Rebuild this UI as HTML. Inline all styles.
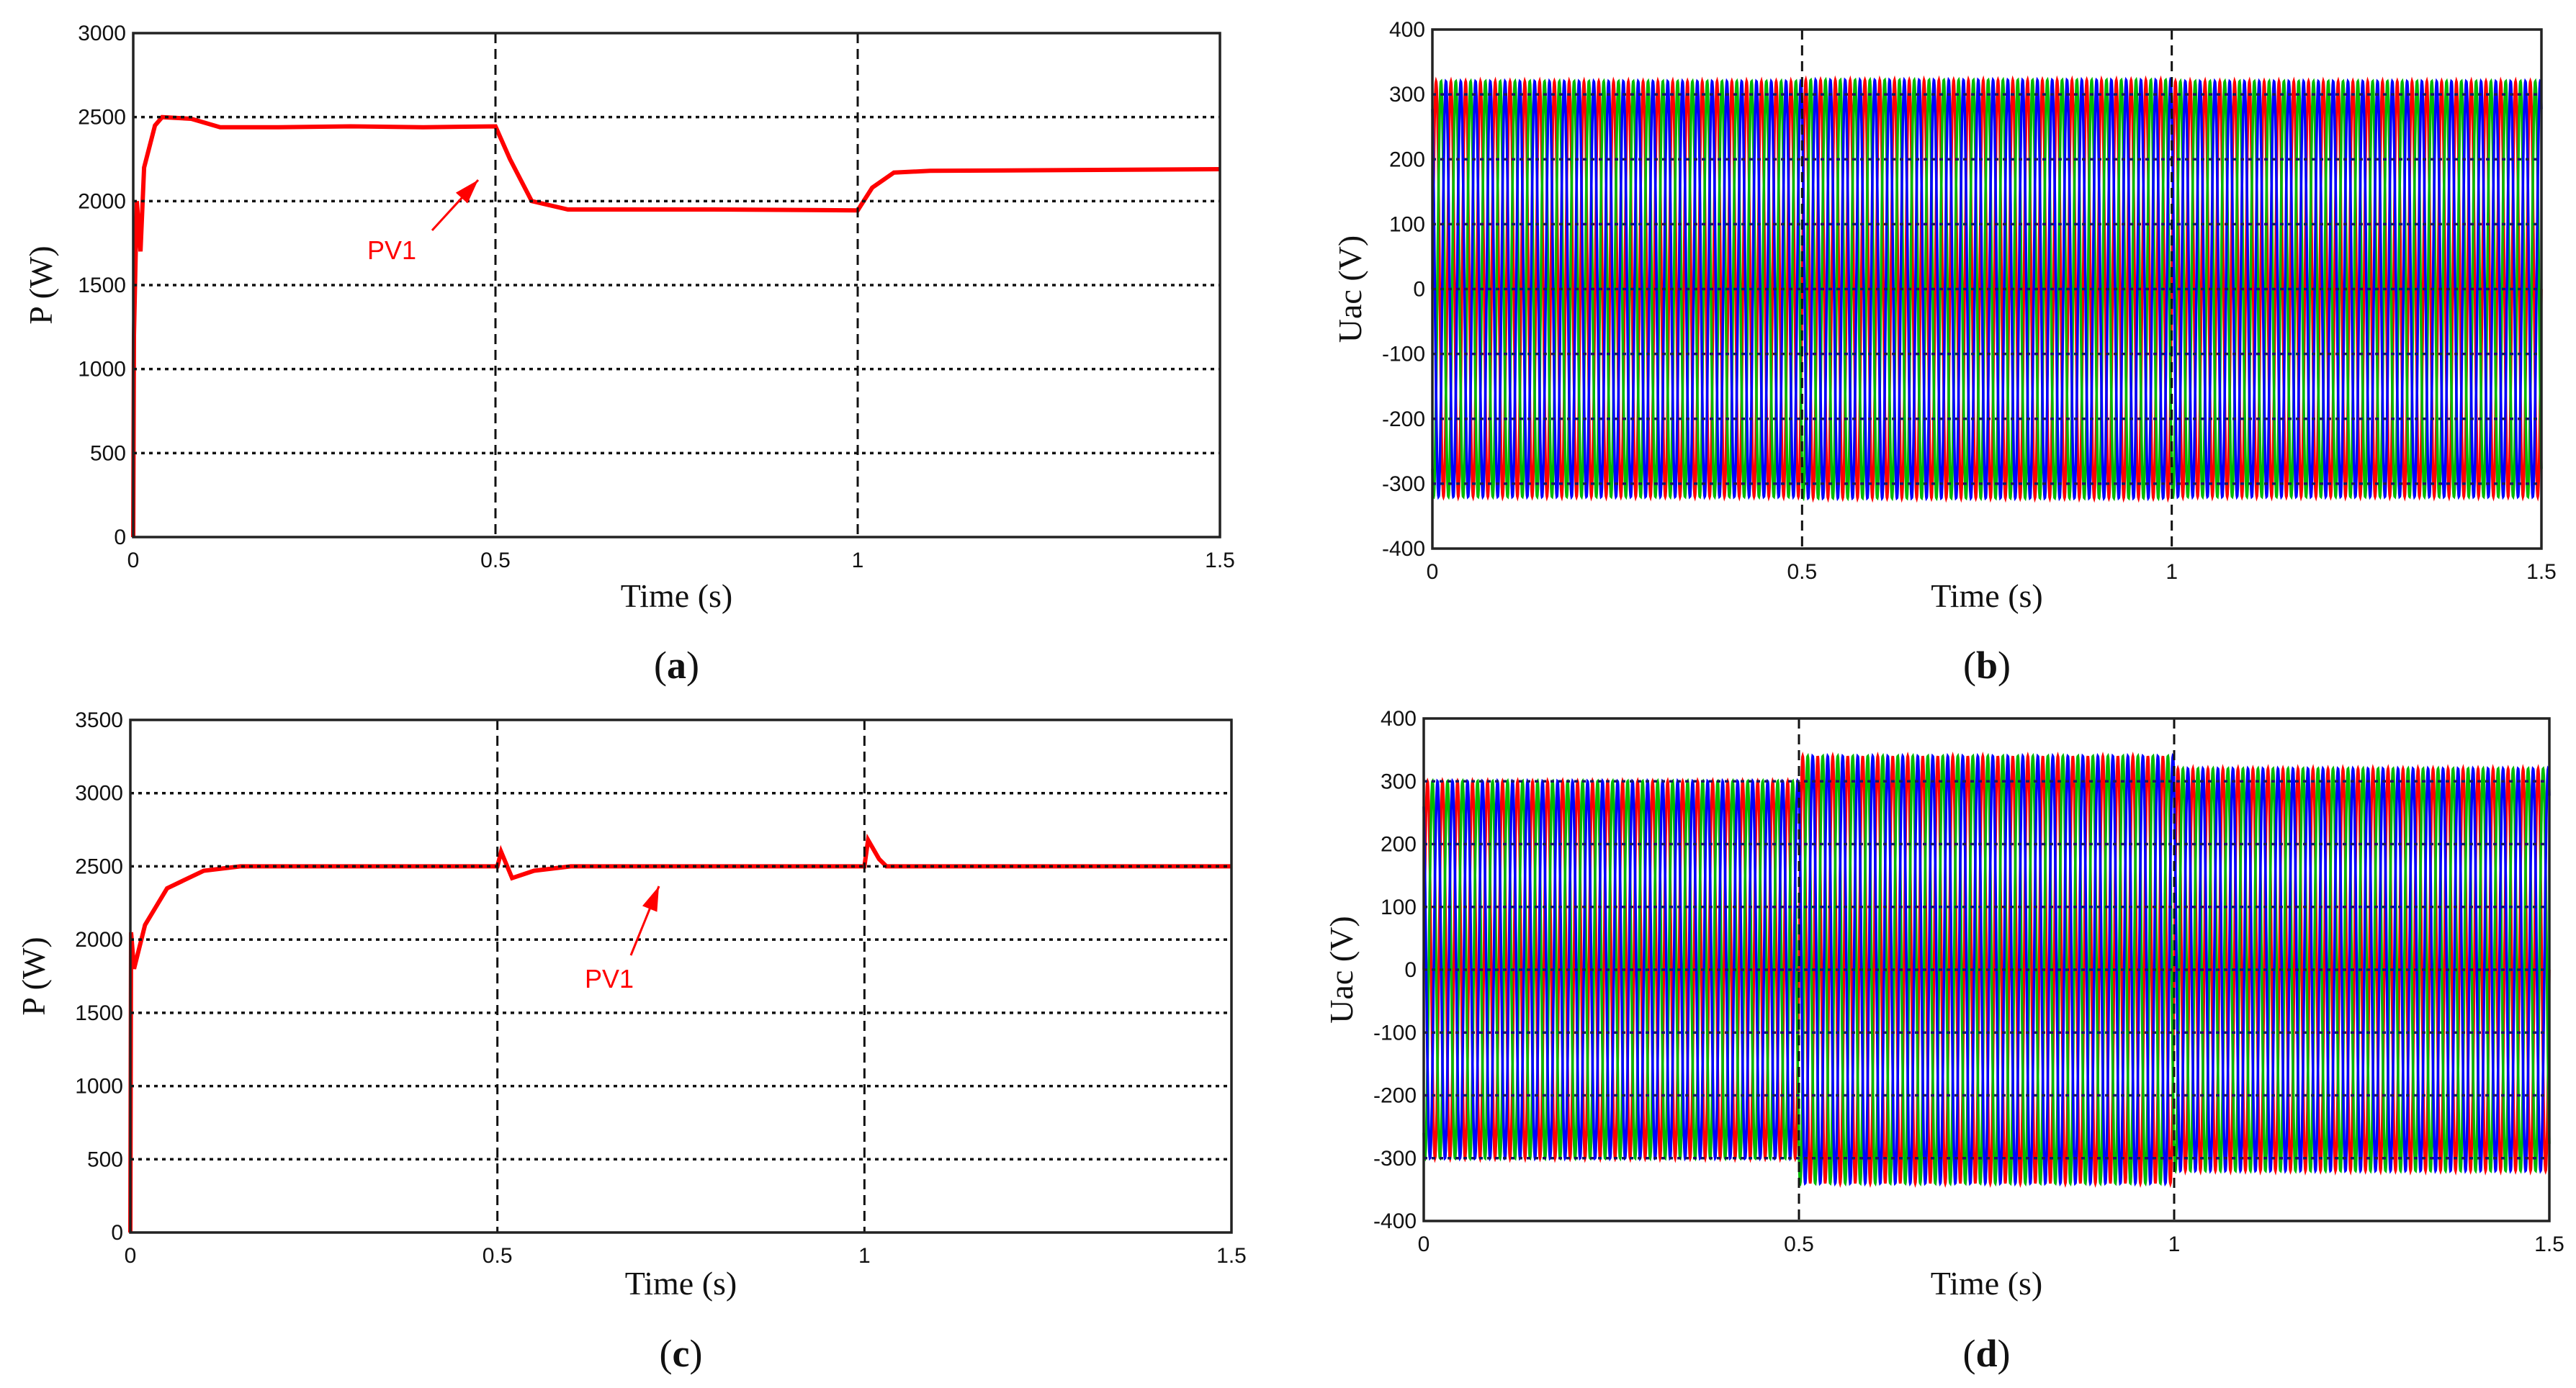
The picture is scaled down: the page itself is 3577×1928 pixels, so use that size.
<!DOCTYPE html>
<html><head><meta charset="utf-8"><style>
body{margin:0;background:#fff}
svg{display:block}
text{font-family:"Liberation Sans",sans-serif}
.tk{font-size:30px;fill:#111}
.ti{font-family:"Liberation Serif",serif;font-size:46px;fill:#111}
.cap{font-family:"Liberation Serif",serif;font-size:54px;fill:#111}
</style></head><body>
<svg id="fig" width="3577" height="1928" viewBox="0 0 3577 1928" xmlns="http://www.w3.org/2000/svg"></svg>
<script>
// ---- data ----
const pA_t=[0,0.001,0.005,0.01,0.015,0.03,0.04,0.08,0.12,0.2,0.3,0.4,0.5,0.52,0.55,0.6,0.8,1.0,1.02,1.05,1.1,1.5];
const pA_v=[0,1200,2000,1700,2200,2450,2500,2490,2440,2440,2445,2440,2445,2250,2000,1950,1950,1945,2080,2170,2180,2190];
const pC_t=[0,0.001,0.005,0.02,0.05,0.1,0.15,0.5,0.505,0.52,0.55,0.6,1.0,1.005,1.02,1.03,1.5];
const pC_v=[0,2050,1800,2100,2350,2470,2500,2500,2600,2420,2470,2500,2500,2680,2550,2500,2500];
const segB_start=[0,0.5,1.0];
const segB_amp=[320,322,320];
const segD_start=[0,0.5,1.0];
const segD_amp=[300,340,320];
const freqHz=50;
const xTicks=[0,0.5,1,1.5];
const xTickLabels=["0","0.5","1","1.5"];
const yTicksA=[0,500,1000,1500,2000,2500,3000];
const yTicksC=[0,500,1000,1500,2000,2500,3000,3500];
const yTicksU=[-400,-300,-200,-100,0,100,200,300,400];

const NS="http://www.w3.org/2000/svg";
const svg=document.getElementById('fig');
function mk(tag,attrs,parent){const e=document.createElementNS(NS,tag);for(const k in attrs)e.setAttribute(k,attrs[k]);(parent||svg).appendChild(e);return e;}

function panel(cfg){
  const g=mk('g',{});
  
  
  const X=t=>cfg.x0+(t-0)/1.5*(cfg.x1-cfg.x0);
  const Y=v=>cfg.yb+(v-cfg.ymin)/(cfg.ymax-cfg.ymin)*(cfg.yt-cfg.yb);
  mk('rect',{x:cfg.x0,y:cfg.yt,width:cfg.x1-cfg.x0,height:cfg.yb-cfg.yt,fill:'#fff'},g);
  const sg=mk('g',{},g);
  
  
  if(cfg.pt){
    let d='';cfg.pt.forEach((t,i)=>{d+=(i?'L':'M')+X(t).toFixed(1)+' '+Y(cfg.pv[i]).toFixed(1);});
    const p=mk('path',{d:d,fill:'none',stroke:'#f00','stroke-width':6},sg);
    
    
  } else {
    const cols=['#ff0000','#00bb00','#0000ff'];
    for(let ph=0;ph<3;ph++){
      let d='';const N=6000;
      for(let i=0;i<=N;i++){
        const t=i/N*1.5;
        let a=cfg.amp[0];for(let s=0;s<cfg.st.length;s++)if(t>=cfg.st[s])a=cfg.amp[s];
        const v=a*Math.sin(2*Math.PI*freqHz*t-ph*2*Math.PI/3);
        d+=(i?'L':'M')+X(t).toFixed(1)+' '+Y(v).toFixed(1);
      }
      const p=mk('path',{d:d,fill:'none',stroke:cols[ph],'stroke-width':3.6},sg);
      
      
    }
  }
  cfg.yticks.forEach(v=>{
    if(v>cfg.ymin&&v<cfg.ymax){
      const l=mk('line',{x1:cfg.x0,x2:cfg.x1,y1:Y(v),y2:Y(v),stroke:cfg.gridCol,'stroke-width':3.5,'stroke-dasharray':'5 6'},g);
      
      
    }
    const tl=mk('text',{x:cfg.x0-10,y:Y(v)+10,'text-anchor':'end',class:'tk'},g);tl.textContent=v;
    
    
  });
  xTicks.forEach((t,i)=>{
    if(t>0&&t<1.5){
      const l=mk('line',{x1:X(t),x2:X(t),y1:cfg.yt,y2:cfg.yb,stroke:'#111','stroke-width':3,'stroke-dasharray':'14 8'},g);
      
      
    }
    const tl=mk('text',{x:X(t),y:cfg.yb+42,'text-anchor':'middle',class:'tk'},g);tl.textContent=xTickLabels[i];
    
    
  });
  mk('rect',{x:cfg.x0,y:cfg.yt,width:cfg.x1-cfg.x0,height:cfg.yb-cfg.yt,fill:'none',stroke:'#222','stroke-width':3.5},g);
  const xt=mk('text',{x:(cfg.x0+cfg.x1)/2,y:cfg.xtY,'text-anchor':'middle',class:'ti'},g);xt.textContent='Time (s)';
  
  
  const cy=(cfg.yt+cfg.yb)/2;
  const yt=mk('text',{x:cfg.ylX,y:cy,'text-anchor':'middle',class:'ti',transform:`rotate(-90 ${cfg.ylX} ${cy})`},g);yt.textContent=cfg.ylab;
  
  
  const cp=mk('text',{x:(cfg.x0+cfg.x1)/2,y:cfg.capY,'text-anchor':'middle',class:'cap'},g);
  cp.innerHTML='(<tspan font-weight="bold">'+cfg.cap+'</tspan>)';
  
  
  if(cfg.ann){
    const a=cfg.ann;
    const t=mk('text',{x:a.tx,y:a.ty,fill:'#f00','font-size':36},g);t.textContent='PV1';
    
    
    const l=mk('line',{x1:a.x1,y1:a.y1,x2:a.x2,y2:a.y2,stroke:'#f00','stroke-width':3},g);
    
    
    const ang=Math.atan2(a.y2-a.y1,a.x2-a.x1),L=34,W=11;
    const bx=a.x2-L*Math.cos(ang),by=a.y2-L*Math.sin(ang);
    mk('polygon',{points:`${a.x2},${a.y2} ${bx+W*Math.sin(ang)},${by-W*Math.cos(ang)} ${bx-W*Math.sin(ang)},${by+W*Math.cos(ang)}`,fill:'#f00'},g);
  }
}
panel({name:'panel-a',x0:185,x1:1694,yt:46,yb:746,ymin:0,ymax:3000,yticks:yTicksA,pt:pA_t,pv:pA_v,gridCol:'#111',ylab:'P (W)',ylX:72,xtY:843,capY:942,cap:'a',
  ann:{tx:510,ty:360,x1:600,y1:320,x2:664,y2:250}});
panel({name:'panel-b',x0:1989,x1:3529,yt:41,yb:762,ymin:-400,ymax:400,yticks:yTicksU,st:segB_start,amp:segB_amp,gridCol:'#1a1a60',ylab:'Uac (V)',ylX:1890,xtY:843,capY:942,cap:'b'});
panel({name:'panel-c',x0:181,x1:1710,yt:1000,yb:1712,ymin:0,ymax:3500,yticks:yTicksC,pt:pC_t,pv:pC_v,gridCol:'#111',ylab:'P (W)',ylX:62,xtY:1798,capY:1898,cap:'c',
  ann:{tx:812,ty:1372,x1:876,y1:1327,x2:915,y2:1231}});
panel({name:'panel-d',x0:1977,x1:3540,yt:998,yb:1696,ymin:-400,ymax:400,yticks:yTicksU,st:segD_start,amp:segD_amp,gridCol:'#1a1a60',ylab:'Uac (V)',ylX:1878,xtY:1798,capY:1898,cap:'d'});
</script>
</body></html>
